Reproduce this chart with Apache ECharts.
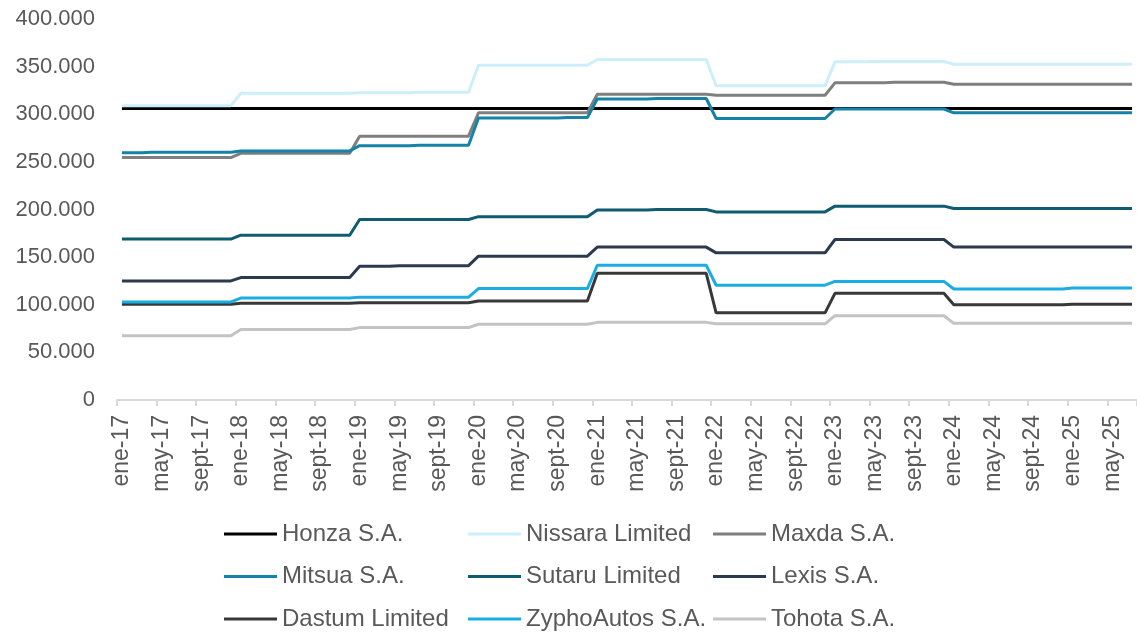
<!DOCTYPE html>
<html>
<head>
<meta charset="utf-8">
<title>Precios por marca</title>
<script src="https://cdn.jsdelivr.net/npm/echarts@6/dist/echarts.min.js"></script>
<style>
  html, body { margin: 0; padding: 0; background: #ffffff; }
  #chart { width: 1137px; height: 634px; }
</style>
</head>
<body>
<div id="chart"></div>
<script>
// Monthly categories: ene-17 .. jul-25
const monthAbbr = ['ene', 'feb', 'mar', 'abr', 'may', 'jun', 'jul', 'ago', 'sept', 'oct', 'nov', 'dic'];
const years = ['17', '18', '19', '20', '21', '22', '23', '24', '25'];
const lastYearMonths = 7;

const categories = [];
years.forEach((y, i) => {
  const n = i === years.length - 1 ? lastYearMonths : 12;
  for (let m = 0; m < n; m++) categories.push(monthAbbr[m] + '-' + y);
});

// Y-axis ticks
const yMin = 0, yMax = 400000, yStep = 50000;

// Series values, one row per year (12 months; 2025 has 7)
const honza = [
  306000, 306000, 306000, 306000, 306000, 306000, 306000, 306000, 306000, 306000, 306000, 306000,
  306000, 306000, 306000, 306000, 306000, 306000, 306000, 306000, 306000, 306000, 306000, 306000,
  306000, 306000, 306000, 306000, 306000, 306000, 306000, 306000, 306000, 306000, 306000, 306000,
  306000, 306000, 306000, 306000, 306000, 306000, 306000, 306000, 306000, 306000, 306000, 306000,
  306000, 306000, 306000, 306000, 306000, 306000, 306000, 306000, 306000, 306000, 306000, 306000,
  306000, 306000, 306000, 306000, 306000, 306000, 306000, 306000, 306000, 306000, 306000, 306000,
  306000, 306000, 306000, 306000, 306000, 306000, 306000, 306000, 306000, 306000, 306000, 306000,
  306000, 306000, 306000, 306000, 306000, 306000, 306000, 306000, 306000, 306000, 306000, 306000,
  306000, 306000, 306000, 306000, 306000, 306000, 306000
];
const nissara = [
  309000, 309000, 309000, 309000, 309000, 309000, 309000, 309000, 309000, 309000, 309000, 309000,
  322000, 322000, 322000, 322000, 322000, 322000, 322000, 322000, 322000, 322000, 322000, 322000,
  322500, 322500, 322500, 322500, 322500, 322500, 323000, 323000, 323000, 323000, 323000, 323000,
  351500, 351500, 351500, 351500, 351500, 351500, 351500, 351500, 351500, 351500, 351500, 351500,
  357500, 357500, 357500, 357500, 357500, 357500, 357500, 357500, 357500, 357500, 357500, 357500,
  330000, 330000, 330000, 330000, 330000, 330000, 330000, 330000, 330000, 330000, 330000, 330000,
  355000, 355000, 355000, 355000, 355500, 355500, 355500, 355500, 355500, 355500, 355500, 355500,
  352500, 352500, 352500, 352500, 352500, 352500, 352500, 352500, 352500, 352500, 352500, 352500,
  352500, 352500, 352500, 352500, 352500, 352500, 352500
];
const maxda = [
  254500, 254500, 254500, 254500, 254500, 254500, 254500, 254500, 254500, 254500, 254500, 254500,
  259000, 259000, 259000, 259000, 259000, 259000, 259000, 259000, 259000, 259000, 259000, 259000,
  277000, 277000, 277000, 277000, 277000, 277000, 277000, 277000, 277000, 277000, 277000, 277000,
  301500, 301500, 301500, 301500, 301500, 301500, 301500, 301500, 301500, 301500, 301500, 301500,
  321000, 321000, 321000, 321000, 321000, 321000, 321000, 321000, 321000, 321000, 321000, 321000,
  320000, 320000, 320000, 320000, 320000, 320000, 320000, 320000, 320000, 320000, 320000, 320000,
  333000, 333000, 333000, 333000, 333000, 333000, 333500, 333500, 333500, 333500, 333500, 333500,
  331500, 331500, 331500, 331500, 331500, 331500, 331500, 331500, 331500, 331500, 331500, 331500,
  331500, 331500, 331500, 331500, 331500, 331500, 331500
];
const mitsua = [
  259500, 259500, 259500, 260000, 260000, 260000, 260000, 260000, 260000, 260000, 260000, 260000,
  261500, 261500, 261500, 261500, 261500, 261500, 261500, 261500, 261500, 261500, 261500, 261500,
  267000, 267000, 267000, 267000, 267000, 267000, 267500, 267500, 267500, 267500, 267500, 267500,
  296000, 296000, 296000, 296000, 296000, 296000, 296000, 296000, 296000, 296500, 296500, 296500,
  316000, 316000, 316000, 316000, 316000, 316000, 316500, 316500, 316500, 316500, 316500, 316500,
  295500, 295500, 295500, 295500, 295500, 295500, 295500, 295500, 295500, 295500, 295500, 295500,
  305500, 305500, 305500, 305500, 305500, 305500, 305500, 305500, 305500, 305500, 305500, 305500,
  301500, 301500, 301500, 301500, 301500, 301500, 301500, 301500, 301500, 301500, 301500, 301500,
  301500, 301500, 301500, 301500, 301500, 301500, 301500
];
const sutaru = [
  169000, 169000, 169000, 169000, 169000, 169000, 169000, 169000, 169000, 169000, 169000, 169000,
  173000, 173000, 173000, 173000, 173000, 173000, 173000, 173000, 173000, 173000, 173000, 173000,
  189500, 189500, 189500, 189500, 189500, 189500, 189500, 189500, 189500, 189500, 189500, 189500,
  192500, 192500, 192500, 192500, 192500, 192500, 192500, 192500, 192500, 192500, 192500, 192500,
  199500, 199500, 199500, 199500, 199500, 199500, 200000, 200000, 200000, 200000, 200000, 200000,
  197500, 197500, 197500, 197500, 197500, 197500, 197500, 197500, 197500, 197500, 197500, 197500,
  203500, 203500, 203500, 203500, 203500, 203500, 203500, 203500, 203500, 203500, 203500, 203500,
  201000, 201000, 201000, 201000, 201000, 201000, 201000, 201000, 201000, 201000, 201000, 201000,
  201000, 201000, 201000, 201000, 201000, 201000, 201000
];
const lexis = [
  125000, 125000, 125000, 125000, 125000, 125000, 125000, 125000, 125000, 125000, 125000, 125000,
  128500, 128500, 128500, 128500, 128500, 128500, 128500, 128500, 128500, 128500, 128500, 128500,
  140500, 140500, 140500, 140500, 141000, 141000, 141000, 141000, 141000, 141000, 141000, 141000,
  151000, 151000, 151000, 151000, 151000, 151000, 151000, 151000, 151000, 151000, 151000, 151000,
  160500, 160500, 160500, 160500, 160500, 160500, 160500, 160500, 160500, 160500, 160500, 160500,
  154500, 154500, 154500, 154500, 154500, 154500, 154500, 154500, 154500, 154500, 154500, 154500,
  168500, 168500, 168500, 168500, 168500, 168500, 168500, 168500, 168500, 168500, 168500, 168500,
  160500, 160500, 160500, 160500, 160500, 160500, 160500, 160500, 160500, 160500, 160500, 160500,
  160500, 160500, 160500, 160500, 160500, 160500, 160500
];
const dastum = [
  100500, 100500, 100500, 100500, 100500, 100500, 100500, 100500, 100500, 100500, 100500, 100500,
  101500, 101500, 101500, 101500, 101500, 101500, 101500, 101500, 101500, 101500, 101500, 101500,
  102000, 102000, 102000, 102000, 102000, 102000, 102000, 102000, 102000, 102000, 102000, 102000,
  104000, 104000, 104000, 104000, 104000, 104000, 104000, 104000, 104000, 104000, 104000, 104000,
  133000, 133000, 133000, 133000, 133000, 133000, 133000, 133000, 133000, 133000, 133000, 133000,
  91500, 91500, 91500, 91500, 91500, 91500, 91500, 91500, 91500, 91500, 91500, 91500,
  112000, 112000, 112000, 112000, 112000, 112000, 112000, 112000, 112000, 112000, 112000, 112000,
  100000, 100000, 100000, 100000, 100000, 100000, 100000, 100000, 100000, 100000, 100000, 100000,
  100500, 100500, 100500, 100500, 100500, 100500, 100500
];
const zypho = [
  103000, 103000, 103000, 103000, 103000, 103000, 103000, 103000, 103000, 103000, 103000, 103000,
  107000, 107000, 107000, 107000, 107000, 107000, 107000, 107000, 107000, 107000, 107000, 107000,
  108000, 108000, 108000, 108000, 108000, 108000, 108000, 108000, 108000, 108000, 108000, 108000,
  117000, 117000, 117000, 117000, 117000, 117000, 117000, 117000, 117000, 117000, 117000, 117000,
  141500, 141500, 141500, 141500, 141500, 141500, 141500, 141500, 141500, 141500, 141500, 141500,
  120500, 120500, 120500, 120500, 120500, 120500, 120500, 120500, 120500, 120500, 120500, 120500,
  124500, 124500, 124500, 124500, 124500, 124500, 124500, 124500, 124500, 124500, 124500, 124500,
  116500, 116500, 116500, 116500, 116500, 116500, 116500, 116500, 116500, 116500, 116500, 116500,
  117500, 117500, 117500, 117500, 117500, 117500, 117500
];
const tohota = [
  67500, 67500, 67500, 67500, 67500, 67500, 67500, 67500, 67500, 67500, 67500, 67500,
  74000, 74000, 74000, 74000, 74000, 74000, 74000, 74000, 74000, 74000, 74000, 74000,
  76000, 76000, 76000, 76000, 76000, 76000, 76000, 76000, 76000, 76000, 76000, 76000,
  79500, 79500, 79500, 79500, 79500, 79500, 79500, 79500, 79500, 79500, 79500, 79500,
  81500, 81500, 81500, 81500, 81500, 81500, 81500, 81500, 81500, 81500, 81500, 81500,
  80000, 80000, 80000, 80000, 80000, 80000, 80000, 80000, 80000, 80000, 80000, 80000,
  88500, 88500, 88500, 88500, 88500, 88500, 88500, 88500, 88500, 88500, 88500, 88500,
  80500, 80500, 80500, 80500, 80500, 80500, 80500, 80500, 80500, 80500, 80500, 80500,
  80500, 80500, 80500, 80500, 80500, 80500, 80500
];

const seriesNames = [
  'Honza S.A.', 'Nissara Limited', 'Maxda S.A.',
  'Mitsua S.A.', 'Sutaru Limited', 'Lexis S.A.',
  'Dastum Limited', 'ZyphoAutos S.A.', 'Tohota S.A.'
];
const seriesValues = [honza, nissara, maxda, mitsua, sutaru, lexis, dastum, zypho, tohota];
const seriesColors = [
  '#000000', '#cdeefb', '#7f7f7f',
  '#1582a8', '#0f5b72', '#2c3a4f',
  '#383838', '#1aade3', '#c3c3c3'
];

const FONT = "'Liberation Sans', Arial, Helvetica, sans-serif";
const TEXT_COLOR = '#595959';
const AXIS_COLOR = '#d9d9d9';

function thousands(v) {
  return String(v).replace(/\B(?=(\d{3})+(?!\d))/g, '.');
}

// Legend laid out as three columns of three entries
const legendColumns = [
  { left: 224, names: [seriesNames[0], seriesNames[3], seriesNames[6]] },
  { left: 468, names: [seriesNames[1], seriesNames[4], seriesNames[7]] },
  { left: 713, names: [seriesNames[2], seriesNames[5], seriesNames[8]] }
];

const option = {
  animation: false,
  backgroundColor: '#ffffff',
  textStyle: { fontFamily: FONT },
  grid: { left: 117, top: 19, bottom: 234, right: -7, containLabel: false },
  legend: legendColumns.map(col => ({
    data: col.names.map(n => ({ name: n, icon: 'rect' })),
    orient: 'vertical',
    left: col.left,
    top: 522,
    padding: 0,
    itemGap: 18.5,
    itemWidth: 53,
    itemHeight: 3,
    selectedMode: false,
    textStyle: { fontFamily: FONT, fontSize: 24, color: TEXT_COLOR, lineHeight: 24 }
  })),
  xAxis: {
    type: 'category',
    data: categories,
    boundaryGap: true,
    axisLine: { show: true, lineStyle: { color: AXIS_COLOR, width: 2 } },
    axisTick: { show: true, interval: 3, length: 6, lineStyle: { color: AXIS_COLOR, width: 2 } },
    axisLabel: {
      interval: 3,
      rotate: 90,
      margin: 15,
      fontFamily: FONT,
      fontSize: 23,
      color: TEXT_COLOR
    },
    splitLine: { show: false }
  },
  yAxis: {
    type: 'value',
    min: yMin,
    max: yMax,
    interval: yStep,
    axisLine: { show: false },
    axisTick: { show: false },
    splitLine: { show: false },
    axisLabel: {
      margin: 22,
      fontFamily: FONT,
      fontSize: 22,
      color: TEXT_COLOR,
      formatter: thousands
    }
  },
  series: seriesNames.map((name, i) => ({
    name: name,
    type: 'line',
    data: seriesValues[i],
    symbol: 'none',
    showSymbol: false,
    color: seriesColors[i],
    lineStyle: { color: seriesColors[i], width: 3 },
    emphasis: { disabled: true }
  }))
};

const chart = echarts.init(document.getElementById('chart'), null, { renderer: 'canvas' });
chart.setOption(option);
</script>
</body>
</html>
